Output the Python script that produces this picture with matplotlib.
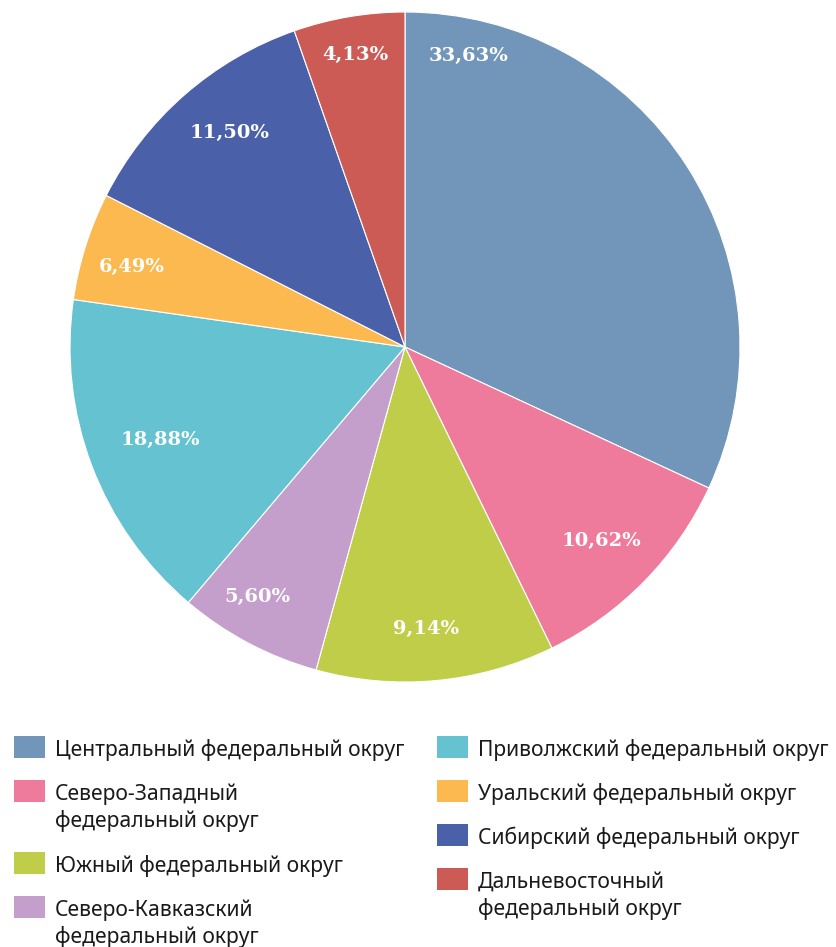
import matplotlib
matplotlib.use("Agg")
import matplotlib.pyplot as plt
from matplotlib.patches import Rectangle

# Data: wedge sizes (degrees, as drawn) and printed shares
districts = [
    "Центральный федеральный округ",
    "Северо-Западный\nфедеральный округ",
    "Южный федеральный округ",
    "Северо-Кавказский\nфедеральный округ",
    "Приволжский федеральный округ",
    "Уральский федеральный округ",
    "Сибирский федеральный округ",
    "Дальневосточный\nфедеральный округ",
]
wedge_deg = [114.9, 39.1, 41.4, 24.9, 57.85, 18.75, 43.8, 19.3]
share_text = ["33,63%", "10,62%", "9,14%", "5,60%", "18,88%", "6,49%", "11,50%", "4,13%"]
colors = ["#7296BA", "#EE7B9B", "#C0CD48", "#C59FCB",
          "#65C3D1", "#FBB94F", "#4A61AA", "#CD5B55"]

# label centres in pie units (radius = 1)
label_pos = [(0.191, 0.869), (0.585, -0.579), (0.063, -0.842), (-0.439, -0.746),
             (-0.731, -0.278), (-0.815, 0.239), (-0.525, 0.639), (-0.149, 0.872)]

W, H = 837, 947
fig = plt.figure(figsize=(W / 100, H / 100), dpi=100)

ax = fig.add_axes([70 / W, (H - 682) / H, 670 / W, 670 / H])
ax.pie(wedge_deg, colors=colors, startangle=90, counterclock=False, radius=1,
       wedgeprops=dict(edgecolor="white", linewidth=0.8))
ax.set_xlim(-1, 1)
ax.set_ylim(-1, 1)
ax.set_aspect("equal")
ax.axis("off")

for txt, (x, y) in zip(share_text, label_pos):
    ax.text(x, y, txt, ha="center", va="center", color="white",
            fontsize=14, fontweight="bold", family="DejaVu Serif")

# legend drawn in pixel coordinates
lg = fig.add_axes([0, 0, 1, 1])
lg.set_xlim(0, W)
lg.set_ylim(H, 0)
lg.axis("off")

col_x = [14, 437]
per_col = 4
for i, (name, c) in enumerate(zip(districts, colors)):
    col = i // per_col
    if i % per_col == 0:
        top = 736
    x = col_x[col]
    lg.add_patch(Rectangle((x, top), 31, 22, facecolor=c, edgecolor="none"))
    lines = name.split("\n")
    for k, line in enumerate(lines):
        lg.text(x + 41, top + 20 + 27 * k, line, ha="left", va="baseline",
                fontsize=15.2, family="Noto Sans", color="#1a1a1a")
    top += 44 + 28 * (len(lines) - 1)

fig.savefig("out.png", dpi=100)
